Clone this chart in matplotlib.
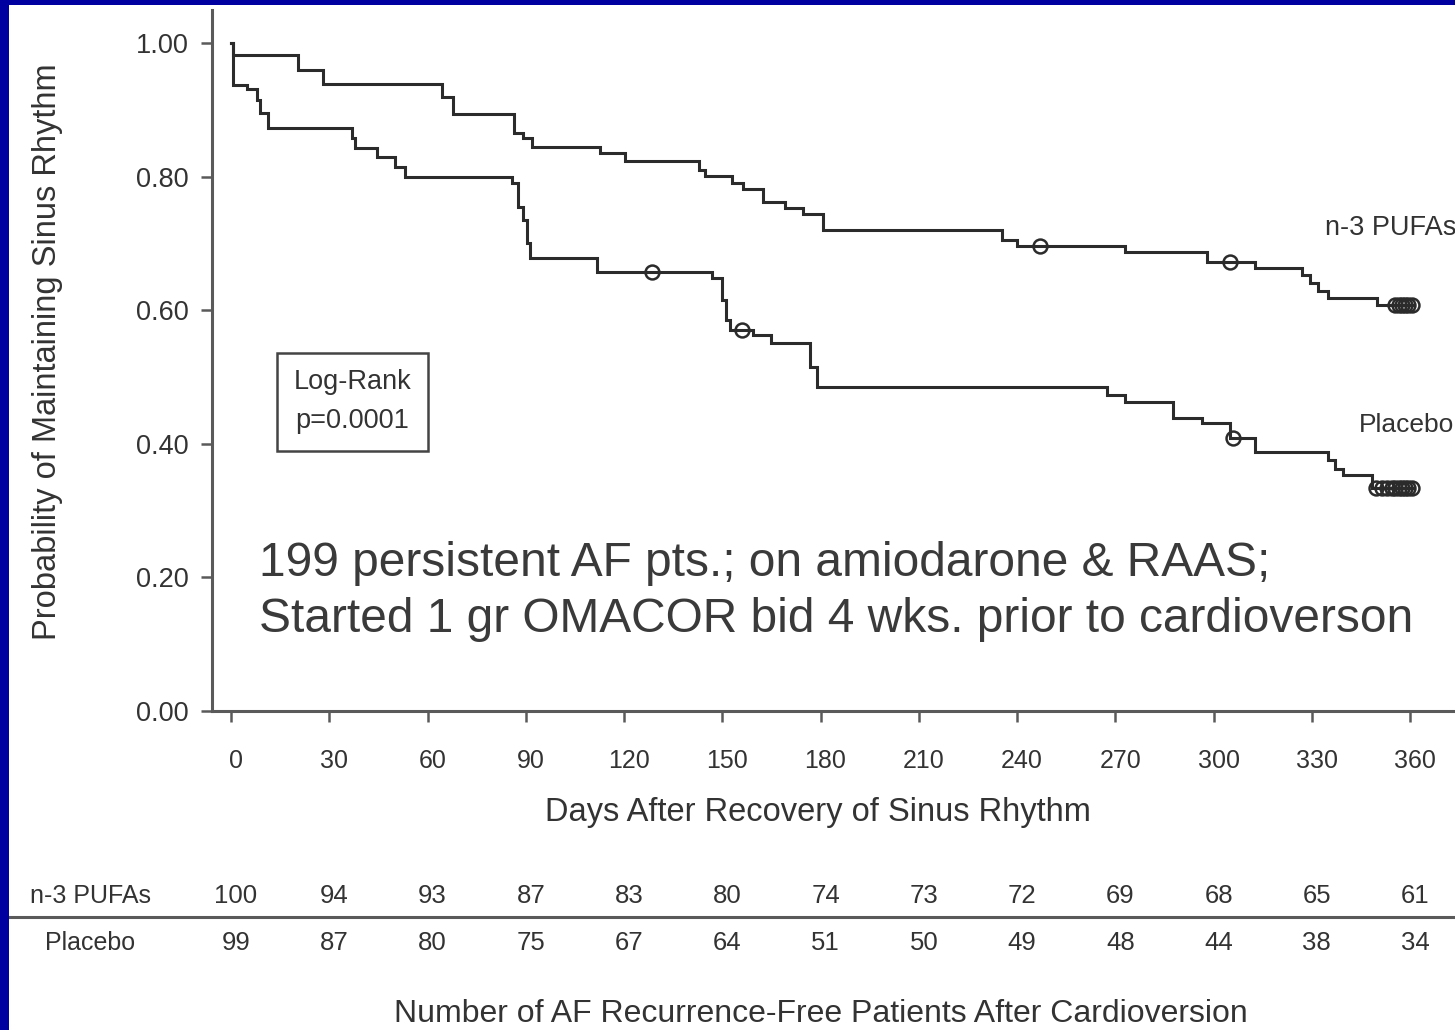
import matplotlib
matplotlib.use("Agg")
import matplotlib.pyplot as plt
import numpy as np
from matplotlib import transforms
from matplotlib.patches import Rectangle

plt.rcParams["font.family"] = ["Liberation Sans", "DejaVu Sans"]

# ── Kaplan-Meier steps (day of event, survival after event) ─────────────────
pufa_days = [0, 0.5, 20.5, 28, 64.4, 67.8, 86.5, 89, 92, 112.7, 120.3, 143, 144.7,
             153, 156.3, 162.4, 169, 174.7, 180.8, 235.4, 240, 273, 298, 312.7,
             327, 329.5, 332, 335, 350, 361]
pufa_surv = [1.0, 0.982, 0.960, 0.939, 0.919, 0.894, 0.865, 0.858, 0.844, 0.835,
             0.823, 0.810, 0.801, 0.790, 0.781, 0.762, 0.753, 0.744, 0.720, 0.705,
             0.696, 0.687, 0.672, 0.663, 0.652, 0.640, 0.628, 0.618, 0.608, 0.608]
pufa_censor = [247, 305, 355.5, 356.5, 357.5, 358.5, 359.5, 360.5]

placebo_days = [0, 0.5, 4.9, 7.9, 8.9, 11.3, 37, 38, 44.6, 50, 53, 85.8, 87.6, 89,
                90.4, 91.3, 111.8, 146.9, 150, 151.1, 152.4, 159.4, 165, 176.8, 179,
                267.5, 273, 287.6, 296.5, 305, 312.6, 335, 337, 339.5, 348.4, 361]
placebo_surv = [1.0, 0.937, 0.931, 0.915, 0.895, 0.873, 0.858, 0.843, 0.829, 0.814,
                0.799, 0.790, 0.755, 0.735, 0.700, 0.678, 0.657, 0.648, 0.615, 0.585,
                0.570, 0.563, 0.551, 0.515, 0.485, 0.473, 0.463, 0.439, 0.431, 0.408,
                0.387, 0.375, 0.362, 0.353, 0.334, 0.334]
placebo_censor = [128.5, 156, 306, 349.5, 351.5, 353, 354.5, 355.5, 356.5, 357.5,
                  358.5, 359.5, 360.5]

x_ticks = list(range(0, 361, 30))
y_ticks = [0.0, 0.2, 0.4, 0.6, 0.8, 1.0]

pufa_at_risk = [100, 94, 93, 87, 83, 80, 74, 73, 72, 69, 68, 65, 61]
placebo_at_risk = [99, 87, 80, 75, 67, 64, 51, 50, 49, 48, 44, 38, 34]

INK = "#2b2b2b"
TEXT = "#333333"
AXIS = "#5a5a5a"
BORDER = "#0000a0"

W, H = 1455, 1030
fig = plt.figure(figsize=(W / 100, H / 100), dpi=100)
fig.patch.set_facecolor("white")
ax = fig.add_axes([212 / W, 1 - 711 / H, 1 - 212 / W, (711 - 10) / H])


def step_value(days, surv, t):
    idx = np.searchsorted(days, t, side="right") - 1
    return surv[idx]


for days, surv, cens in [(pufa_days, pufa_surv, pufa_censor),
                         (placebo_days, placebo_surv, placebo_censor)]:
    ax.step(days, surv, where="post", color=INK, lw=2.2, solid_joinstyle="miter")
    cy = [step_value(days, surv, c) for c in cens]
    ax.plot(cens, cy, "o", ms=10, mfc="none", mec=INK, mew=1.8)

ax.set_xlim(-5.8, 373.7)
ax.set_ylim(0, 1.0494)
ax.set_xticks(x_ticks)
ax.set_yticks(y_ticks)
ax.set_yticklabels([f"{v:.2f}" for v in y_ticks])
for side in ["top", "right"]:
    ax.spines[side].set_visible(False)
for side in ["left", "bottom"]:
    ax.spines[side].set_color(AXIS)
    ax.spines[side].set_linewidth(2.2)
ax.tick_params(axis="both", colors=AXIS, width=1.8, length=8, labelcolor=TEXT)
ax.tick_params(axis="x", labelsize=18, pad=19)
ax.tick_params(axis="y", labelsize=19.5, pad=9)
shift = transforms.ScaledTranslation(5 / 100, 0, fig.dpi_scale_trans)
for lab in ax.get_xticklabels():
    lab.set_transform(lab.get_transform() + shift)

# axis titles
fig.text(48 / W, 1 - 352 / H, "Probability of Maintaining Sinus Rhythm", rotation=90,
         ha="center", va="center", fontsize=23.5, color=TEXT)
fig.text(818 / W, 1 - 812 / H, "Days After Recovery of Sinus Rhythm",
         ha="center", va="center", fontsize=23.5, color=TEXT)

# curve labels
fig.text(1325 / W, 1 - 228 / H, "n-3 PUFAs", ha="left", va="center", fontsize=19.5, color=TEXT)
fig.text(1359 / W, 1 - 425 / H, "Placebo", ha="left", va="center", fontsize=19, color=TEXT)

# log-rank box
ax.text(0.113, 0.441, "Log-Rank\np=0.0001", transform=ax.transAxes, ha="center",
        va="center", fontsize=19.5, color=TEXT, linespacing=1.65,
        bbox=dict(boxstyle="square,pad=0.6", fc="white", ec="#444444", lw=1.8))

# study note
fig.text(259 / W, 1 - 563 / H, "199 persistent AF pts.; on amiodarone & RAAS;",
         ha="left", va="center", fontsize=34.5, color="#3a3a3a")
fig.text(259 / W, 1 - 619 / H, "Started 1 gr OMACOR bid 4 wks. prior to cardioverson",
         ha="left", va="center", fontsize=34.5, color="#3a3a3a")

# number-at-risk table
tr = transforms.blended_transform_factory(ax.transData, fig.transFigure) + shift
for x, a, b in zip(x_ticks, pufa_at_risk, placebo_at_risk):
    fig.text(x, 1 - 896 / H, str(a), transform=tr, ha="center", va="center",
             fontsize=18.5, color=TEXT)
    fig.text(x, 1 - 943 / H, str(b), transform=tr, ha="center", va="center",
             fontsize=18.5, color=TEXT)
fig.text(90 / W, 1 - 896 / H, "n-3 PUFAs", ha="center", va="center", fontsize=18, color=TEXT)
fig.text(90 / W, 1 - 943 / H, "Placebo", ha="center", va="center", fontsize=18, color=TEXT)
fig.add_artist(plt.Line2D([10 / W, 1], [1 - 917 / H] * 2, transform=fig.transFigure,
                          color=AXIS, lw=2.2))
fig.text(821 / W, 1 / H, "Number of AF Recurrence-Free Patients After Cardioversion",
         ha="center", va="bottom", fontsize=23, color=TEXT)

# slide frame
fig.add_artist(Rectangle((0, 0), 9 / W, 1, transform=fig.transFigure, color=BORDER, lw=0))
fig.add_artist(Rectangle((0, 1 - 5 / H), 1, 5 / H, transform=fig.transFigure,
                         color=BORDER, lw=0))

fig.savefig("out.png", dpi=100)
